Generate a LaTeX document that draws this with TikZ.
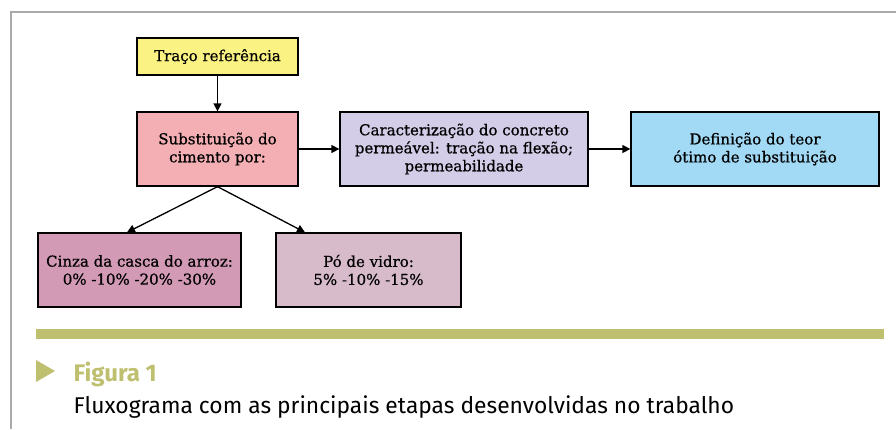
\documentclass[tikz,border=0pt]{standalone}
\usepackage{fontspec}
\setmainfont{DejaVu Serif}[FakeBold=0.6]
\newfontfamily\capfont{Fira Sans}
\usetikzlibrary{arrows.meta}

\definecolor{amarelo}{RGB}{250,242,130}
\definecolor{rosa}{RGB}{244,175,180}
\definecolor{lilas}{RGB}{211,205,232}
\definecolor{azul}{RGB}{162,217,245}
\definecolor{malva}{RGB}{211,154,182}
\definecolor{malvaclaro}{RGB}{215,187,203}
\definecolor{oliva}{RGB}{190,192,112}
\definecolor{moldura}{RGB}{170,170,170}

\begin{document}
\begin{tikzpicture}[x=1pt,y=-1pt,>={Triangle[length=8pt,width=8pt]},
				line width=1.3pt,box/.style = {rectangle,draw,line width=1.3pt,align=center,
				font=\fontsize{15}{18}\selectfont,inner sep=2pt}]
				
				\useasboundingbox (0,0) rectangle (896,429);
				\draw[moldura,line width=1.2pt] (11,429) -- (11,12) -- (896,12);
				
				\node[box,fill=amarelo,minimum width=161pt,minimum height=37pt] at (217.5,56.5) (1) {Traço referência};
				\node[box,fill=rosa,minimum width=161pt,minimum height=74pt] at (217.5,149) (2) {Substituição do\\cimento por:};
				\node[box,fill=lilas,minimum width=248pt,minimum height=74pt] at (464,149) (3) {Caracterização do concreto\\permeável: tração na flexão;\\permeabilidade};
				\node[box,fill=azul,minimum width=248pt,minimum height=74pt] at (755,149) (4) {Definição do teor\\ótimo de substituição};
				\node[box,fill=malva,minimum width=203pt,minimum height=74pt] at (139.5,270) (5) {Cinza da casca do arroz:\\0\% -10\% -20\% -30\%};
				\node[box,fill=malvaclaro,minimum width=185pt,minimum height=74pt] at (368.5,270) (6) {Pó de vidro:\\5\% -10\% -15\%};
				
				\draw[->] (1) -- (2);
				\draw[->] (2) -- (3);
				\draw[->] (3) -- (4);
				\draw[->] (2.south) -- ([xshift=-12.5pt]5.north);
				\draw[->] (2.south) -- ([xshift=-63.5pt]6.north);
				
				\fill[oliva] (36,329) rectangle (884,339);
				\fill[oliva] (36,360) -- (55,371) -- (36,382) -- cycle;
				\node[anchor=base west,inner sep=0pt,text=oliva,font=\capfont\bfseries\fontsize{24}{28}\selectfont] at (73,381) (7) {Figura 1};
				\node[anchor=base west,inner sep=0pt,font=\capfont\fontsize{22.8}{27}\selectfont] at (73,413) (8) {Fluxograma com as principais etapas desenvolvidas no trabalho};
				
				\end{tikzpicture}
\end{document}
